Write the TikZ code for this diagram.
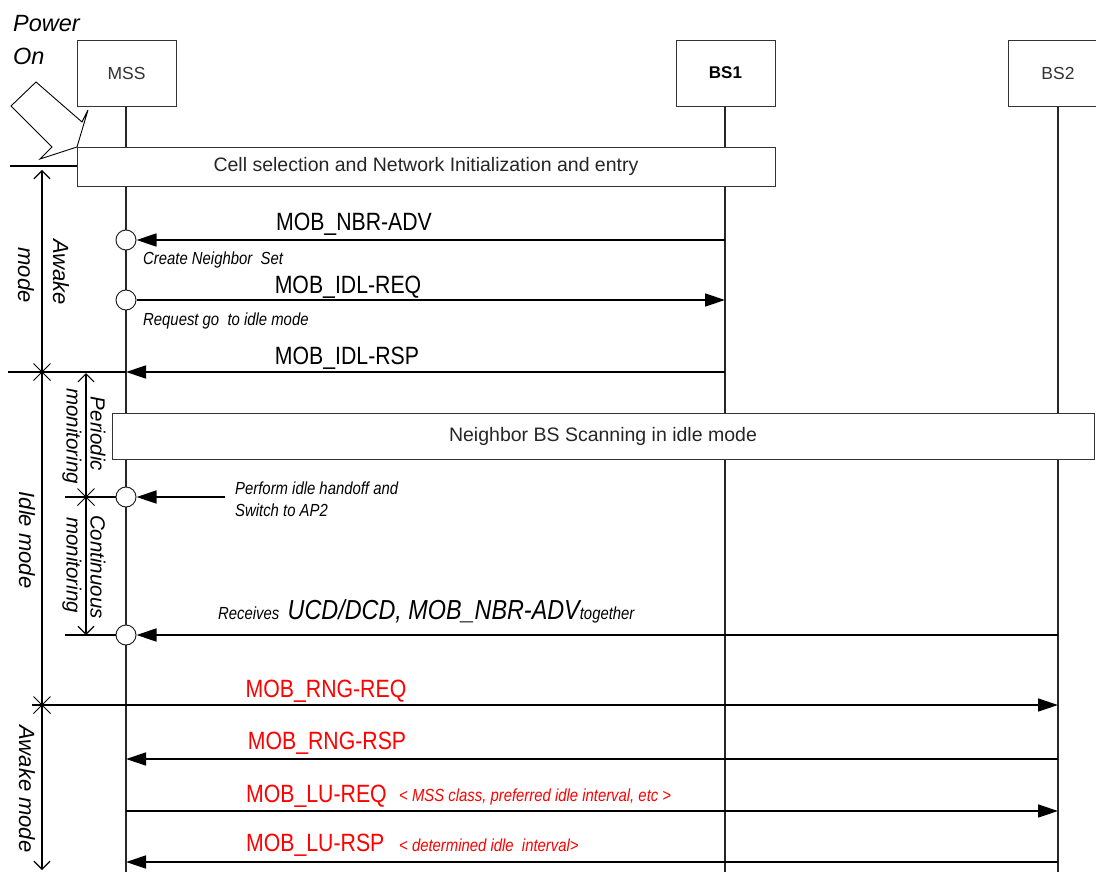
\documentclass[tikz,border=0pt]{standalone}
\usepackage{fontspec}
\setmainfont{Liberation Sans}
\newfontfamily\nar{Liberation Sans}[FakeStretch=0.85]
\usetikzlibrary{arrows.meta,shapes.misc}
\tikzset{
  ent/.style={draw=black!80, line width=0.9pt, fill=white, minimum width=99pt, minimum height=66pt, inner sep=0pt, font=\fontsize{17.5}{20}\selectfont, text=black!80},
  bar/.style={draw=black!80, line width=0.9pt, fill=white, inner sep=0pt, font=\fontsize{19.5}{22}\selectfont, text=black!85},
  life/.style={line width=1.2pt, black!85},
  msg/.style={line width=1.4pt, -{Triangle[length=20pt,width=13pt]}},
  plain/.style={line width=1.2pt},
  dim/.style={line width=1.1pt},
  barbend/.style={-{Straight Barb[length=8pt,width=16pt]}},
  barbstart/.style={{Straight Barb[length=8pt,width=16pt]}-},
  evt/.style={circle, draw=black!85, line width=1pt, fill=white, minimum size=20pt, inner sep=0pt},
  xmark/.style={cross out, draw, line width=1pt, minimum size=16pt, inner sep=0pt},
  lbl/.style={font=\nar\fontsize{25}{28}\selectfont, anchor=base, inner sep=0pt},
  rlbl/.style={lbl, text=red},
  note/.style={font=\nar\itshape\fontsize{17.5}{20}\selectfont, anchor=base west, inner sep=0pt},
  rnote/.style={note, text=red},
  side/.style={font=\itshape\fontsize{22}{26}\selectfont, rotate=-90, inner sep=0pt},
  sidesm/.style={font=\itshape\fontsize{20.5}{24}\selectfont, rotate=-90, inner sep=0pt},
}
\begin{document}
\begin{tikzpicture}[x=1pt,y=-1pt]
\useasboundingbox (0,0) rectangle (1096,872);
\clip (0,0) rectangle (1096,872);
\fill[white] (0,0) rectangle (1096,872);

% lifelines
\coordinate (mssT) at (126,106);
\coordinate (mssB) at (126,872);
\coordinate (bs1T) at (725,106);
\coordinate (bs1B) at (725,872);
\coordinate (bs2T) at (1058,106);
\coordinate (bs2B) at (1058,872);
\draw[life] (mssT) -- (mssB);
\draw[life] (bs1T) -- (bs1B);
\draw[life] (bs2T) -- (bs2B);

% entities
\node[ent] (mss) at (126.5,73) {MSS};
\node[ent, text=black, font=\bfseries\fontsize{17}{20}\selectfont] (bs1) at (725.5,73) {BS1};
\node[ent] (bs2) at (1058,73) {BS2};

% power on
\node[font=\itshape\fontsize{23.5}{27}\selectfont, anchor=base west, inner sep=0pt] (pw) at (13,32) {Power};
\node[font=\itshape\fontsize{23.5}{27}\selectfont, anchor=base west, inner sep=0pt] (on) at (13,65) {On};
\draw[line width=0.9pt, fill=white] (11,106) -- (36,82) -- (82,122) -- (88,110) -- (77,147) -- (40,159) -- (52,147) -- cycle;

% cell selection bar
\node[bar, minimum width=698pt, minimum height=39pt] (cell) at (426,166.5) {Cell selection and Network Initialization and entry};
\coordinate (c0) at (10,166);
\draw[plain] (c0) -- (cell.west |- c0);

% events
\node[evt] (e1) at (126,240) {};
\node[evt] (e2) at (126,300) {};
\node[evt] (e3) at (126,497) {};
\node[evt] (e4) at (126,635) {};

% MOB_NBR-ADV
\coordinate (b1a) at (725,240);
\draw[msg] (b1a) -- (e1);
\node[lbl] (l1) at (354,230) {MOB\_NBR-ADV};
\node[note] (n1) at (143,265) {Create Neighbor\ \ Set};

% MOB_IDL-REQ
\coordinate (b1b) at (725,300);
\draw[msg] (e2) -- (b1b);
\node[lbl] (l2) at (348,293) {MOB\_IDL-REQ};
\node[note] (n2) at (143,325) {Request go\ \ to idle mode};

% MOB_IDL-RSP
\coordinate (b1c) at (725,372);
\coordinate (m3) at (126,372);
\coordinate (x3) at (8,372);
\draw[msg] (b1c) -- (m3);
\draw[plain] (m3) -- (x3);
\node[lbl] (l3) at (347,364) {MOB\_IDL-RSP};

% scanning bar
\node[bar, minimum width=982pt, minimum height=46pt] (scan) at (603,436) {Neighbor BS Scanning in idle mode};

% perform idle handoff
\coordinate (p0) at (225,497);
\coordinate (p1) at (65,497);
\draw[msg] (p0) -- (e3);
\draw[plain] (e3) -- (p1);
\node[note] (n3) at (235,494) {Perform idle handoff and};
\node[note] (n4) at (235,516.5) {Switch to AP2};

% receives
\coordinate (b2a) at (1058,635);
\coordinate (r1) at (65,635);
\draw[msg] (b2a) -- (e4);
\draw[plain] (e4) -- (r1);
\node[note] (n5) at (218,619) {Receives\ \ {\fontsize{27.5}{31}\selectfont UCD/DCD, MOB\_NBR-ADV}together};

% red messages
\coordinate (s0) at (32,705);
\coordinate (b2b) at (1058,705);
\draw[msg] (s0) -- (b2b);
\node[rlbl] (l4) at (326,697) {MOB\_RNG-REQ};

\coordinate (b2c) at (1058,759);
\coordinate (m5) at (126,759);
\draw[msg] (b2c) -- (m5);
\node[rlbl] (l5) at (327,749) {MOB\_RNG-RSP};

\coordinate (m6) at (126,811);
\coordinate (b2d) at (1058,811);
\draw[msg] (m6) -- (b2d);
\node[rlbl, anchor=base west] (l6) at (246,802) {MOB\_LU-REQ};
\node[rnote] (n6) at (399,801) {< MSS class, preferred idle interval, etc >};

\coordinate (b2e) at (1058,862);
\coordinate (m7) at (126,862);
\draw[msg] (b2e) -- (m7);
\node[rlbl, anchor=base west] (l7) at (246,851) {MOB\_LU-RSP};
\node[rnote] (n7) at (399,851) {< determined idle\ \ interval>};

% dimension lines
\coordinate (d0) at (42,170);
\coordinate (d1) at (42,372);
\coordinate (d2) at (42,705);
\coordinate (d3) at (42,870);
\coordinate (q0) at (86,373);
\coordinate (q1) at (86,497);
\coordinate (q2) at (86,635);
\draw[dim, barbstart] (d0) -- (d1);
\draw[dim] (d1) -- (d2);
\draw[dim, barbend] (d2) -- (d3);
\draw[dim, barbstart] (q0) -- (q1);
\draw[dim, barbend] (q1) -- (q2);
\node[xmark] (k1) at (d1) {};
\node[xmark] (k2) at (d2) {};
\node[xmark] (k3) at (q1) {};

% side labels
\node[side] (s1) at (61,272) {Awake};
\node[side] (s2) at (26,275) {mode};
\node[side] (s3) at (27,540) {Idle mode};
\node[side] (s4) at (27,789) {Awake mode};
\node[sidesm] (s5) at (98,434) {Periodic};
\node[sidesm] (s6) at (72,436) {monitoring};
\node[sidesm] (s7) at (98,567) {Continuous};
\node[sidesm] (s8) at (72,565) {monitoring};
\end{tikzpicture}
\end{document}
